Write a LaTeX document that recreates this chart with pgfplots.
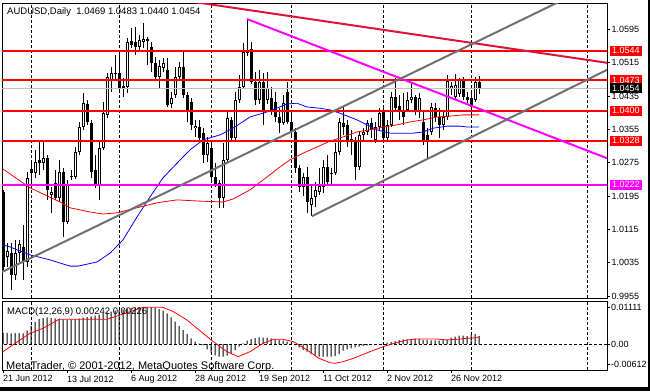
\documentclass[border=0pt]{standalone}
\usepackage{fontspec}
\setmainfont{Liberation Sans}
\usepackage{pgfplots}
\usepackage{pgfplotstable}
\pgfplotsset{compat=1.18}
\definecolor{crim}{RGB}{220,20,60}
\definecolor{chgray}{RGB}{112,112,112}
\definecolor{bidgray}{RGB}{192,192,192}
\definecolor{mag}{RGB}{255,0,255}

\pgfplotstableread{
i O H L C
0 1.0205 1.0210 1.0018 1.0025
1 1.0049 1.0082 1.0025 1.0063
2 1.0058 1.0082 0.9970 1.0006
3 1.0006 1.0090 0.9994 1.0058
4 1.0058 1.0090 1.0037 1.0080
5 1.0073 1.0126 0.9994 1.0037
6 1.0037 1.0253 1.0025 1.0239
7 1.0260 1.0282 1.0222 1.0251
8 1.0251 1.0306 1.0239 1.0277
9 1.0282 1.0325 1.0246 1.0274
10 1.0274 1.0325 1.0258 1.0287
11 1.0287 1.0294 1.0186 1.0210
12 1.0198 1.0217 1.0155 1.0205
13 1.0227 1.0258 1.0186 1.0191
14 1.0191 1.0282 1.0181 1.0253
15 1.0253 1.0263 1.0097 1.0133
16 1.0133 1.0234 1.0128 1.0224
17 1.0243 1.0258 1.0234 1.0242
18 1.0241 1.0313 1.0236 1.0301
19 1.0301 1.0373 1.0294 1.0361
20 1.0361 1.0443 1.0354 1.0418
21 1.0416 1.0426 1.0366 1.0373
22 1.0370 1.0378 1.0239 1.0253
23 1.0258 1.0294 1.0215 1.0222
24 1.0222 1.0330 1.0186 1.0310
25 1.0310 1.0421 1.0306 1.0394
26 1.0390 1.0490 1.0382 1.0481
27 1.0474 1.0505 1.0445 1.0490
28 1.0488 1.0534 1.0474 1.0487
29 1.0490 1.0546 1.0443 1.0454
30 1.0459 1.0478 1.0433 1.0452
31 1.0457 1.0574 1.0443 1.0565
32 1.0567 1.0598 1.0550 1.0558
33 1.0565 1.0601 1.0534 1.0553
34 1.0553 1.0582 1.0546 1.0570
35 1.0565 1.0610 1.0550 1.0572
36 1.0572 1.0577 1.0510 1.0567
37 1.0553 1.0565 1.0493 1.0514
38 1.0514 1.0529 1.0474 1.0481
39 1.0481 1.0522 1.0454 1.0507
40 1.0502 1.0526 1.0493 1.0514
41 1.0498 1.0526 1.0409 1.0414
42 1.0416 1.0445 1.0406 1.0430
43 1.0438 1.0505 1.0430 1.0481
44 1.0481 1.0517 1.0474 1.0505
45 1.0505 1.0541 1.0430 1.0438
46 1.0438 1.0445 1.0373 1.0402
47 1.0421 1.0430 1.0354 1.0366
48 1.0358 1.0378 1.0337 1.0363
49 1.0361 1.0378 1.0330 1.0334
50 1.0346 1.0358 1.0274 1.0294
51 1.0294 1.0337 1.0277 1.0322
52 1.0310 1.0322 1.0234 1.0241
53 1.0241 1.0274 1.0217 1.0222
54 1.0227 1.0234 1.0167 1.0191
55 1.0191 1.0322 1.0167 1.0282
56 1.0282 1.0402 1.0277 1.0382
57 1.0378 1.0385 1.0330 1.0334
58 1.0334 1.0445 1.0327 1.0426
59 1.0426 1.0486 1.0418 1.0457
60 1.0457 1.0562 1.0452 1.0541
61 1.0538 1.0620 1.0531 1.0546
62 1.0548 1.0565 1.0464 1.0469
63 1.0469 1.0493 1.0414 1.0426
64 1.0426 1.0498 1.0416 1.0469
65 1.0469 1.0490 1.0366 1.0402
66 1.0426 1.0493 1.0416 1.0454
67 1.0430 1.0457 1.0390 1.0402
68 1.0421 1.0445 1.0373 1.0385
69 1.0385 1.0406 1.0346 1.0370
70 1.0370 1.0438 1.0366 1.0418
71 1.0445 1.0469 1.0368 1.0373
72 1.0373 1.0402 1.0342 1.0349
73 1.0349 1.0358 1.0251 1.0263
74 1.0263 1.0270 1.0205 1.0217
75 1.0217 1.0251 1.0195 1.0241
76 1.0241 1.0265 1.0155 1.0181
77 1.0174 1.0222 1.0147 1.0191
78 1.0193 1.0229 1.0169 1.0210
79 1.0205 1.0263 1.0198 1.0219
80 1.0217 1.0282 1.0203 1.0265
81 1.0265 1.0294 1.0222 1.0229
82 1.0251 1.0263 1.0222 1.0248
83 1.0251 1.0322 1.0246 1.0301
84 1.0301 1.0382 1.0294 1.0373
85 1.0370 1.0409 1.0342 1.0361
86 1.0366 1.0378 1.0313 1.0330
87 1.0327 1.0354 1.0294 1.0332
88 1.0330 1.0337 1.0234 1.0265
89 1.0265 1.0349 1.0258 1.0342
90 1.0342 1.0358 1.0330 1.0349
91 1.0349 1.0378 1.0342 1.0370
92 1.0370 1.0382 1.0334 1.0354
93 1.0330 1.0373 1.0322 1.0361
94 1.0361 1.0406 1.0354 1.0394
95 1.0397 1.0406 1.0330 1.0334
96 1.0334 1.0378 1.0325 1.0366
97 1.0366 1.0445 1.0361 1.0433
98 1.0433 1.0478 1.0397 1.0406
99 1.0411 1.0438 1.0378 1.0402
100 1.0402 1.0443 1.0366 1.0385
101 1.0402 1.0445 1.0397 1.0426
102 1.0426 1.0466 1.0418 1.0433
103 1.0433 1.0438 1.0390 1.0397
104 1.0397 1.0443 1.0382 1.0430
105 1.0373 1.0397 1.0318 1.0330
106 1.0342 1.0358 1.0287 1.0330
107 1.0349 1.0418 1.0342 1.0409
108 1.0406 1.0418 1.0373 1.0385
109 1.0385 1.0406 1.0334 1.0366
110 1.0366 1.0402 1.0354 1.0385
111 1.0385 1.0486 1.0378 1.0471
112 1.0454 1.0469 1.0438 1.0459
113 1.0433 1.0488 1.0426 1.0462
114 1.0440 1.0478 1.0433 1.0474
115 1.0474 1.0481 1.0426 1.0433
116 1.0433 1.0445 1.0416 1.0426
117 1.0430 1.0443 1.0385 1.0409
118 1.0426 1.0481 1.0421 1.0469
119 1.0469 1.0483 1.0440 1.0454
}\candles

\pgfplotstableread{
i h
0 0.0034
1 0.0033
2 0.0032
3 0.0033
4 0.0033
5 0.0032
6 0.0040
7 0.0055
8 0.0066
9 0.0075
10 0.0078
11 0.0080
12 0.0078
13 0.0077
14 0.0076
15 0.0074
16 0.0073
17 0.0073
18 0.0074
19 0.0076
20 0.0079
21 0.0081
22 0.0083
23 0.0085
24 0.0088
25 0.0091
26 0.0094
27 0.0097
28 0.0100
29 0.0102
30 0.0104
31 0.0106
32 0.0108
33 0.0110
34 0.0111
35 0.0111
36 0.0111
37 0.0110
38 0.0108
39 0.0105
40 0.0100
41 0.0092
42 0.0080
43 0.0067
44 0.0054
45 0.0042
46 0.0030
47 0.0017
48 0.0007
49 0.0001
50 -0.0004
51 -0.0016
52 -0.0026
53 -0.0034
54 -0.0038
55 -0.0038
56 -0.0035
57 -0.0028
58 -0.0018
59 -0.0008
60 0.0002
61 0.0010
62 0.0015
63 0.0018
64 0.0020
65 0.0019
66 0.0019
67 0.0017
68 0.0014
69 0.0012
70 0.0010
71 0.0007
72 0.0002
73 -0.0004
74 -0.0010
75 -0.0018
76 -0.0023
77 -0.0030
78 -0.0035
79 -0.0038
80 -0.0038
81 -0.0038
82 -0.0038
83 -0.0036
84 -0.0030
85 -0.0020
86 -0.0016
87 -0.0013
88 -0.0010
89 -0.0008
90 -0.0006
91 -0.0004
92 -0.0003
93 -0.0002
94 -0.0001
95 0.0002
96 0.0004
97 0.0006
98 0.0009
99 0.0012
100 0.0014
101 0.0014
102 0.0015
103 0.0016
104 0.0015
105 0.0012
106 0.0012
107 0.0011
108 0.0011
109 0.0010
110 0.0013
111 0.0014
112 0.0019
113 0.0022
114 0.0025
115 0.0025
116 0.0024
117 0.0027
118 0.0030
119 0.0024
}\macd

\begin{document}
\begin{tikzpicture}
\useasboundingbox (0pt,0pt) rectangle (650pt,-391pt);
\fill[white] (0pt,0pt) rectangle (650pt,-391pt);

\begin{axis}[
  at={(2pt,-3pt)}, anchor=north west, scale only axis,
  width=605pt, height=295pt,
  xmin=-0.25, xmax=151, ymin=0.99505, ymax=1.06585,
  scaled y ticks=false, scaled x ticks=false,
  axis line style={black, line width=0.8pt},
  xtick={7,29,52,72,95,117,146}, xticklabels={}, xmajorgrids,
  x grid style={black, line width=0.8pt, dash pattern=on 3pt off 2pt},
  xtick style={draw=none},
  ytick={0.9955,1.0035,1.0115,1.0195,1.0275,1.0355,1.0435,1.0515,1.0595},
  yticklabels={0.9955,1.0035,1.0115,1.0195,1.0275,1.0355,1.0435,1.0515,1.0595},
  ytick pos=right, yticklabel pos=right, tick align=outside,
  major tick length=3pt, ytick style={black, line width=0.8pt},
  yticklabel style={font=\fontsize{9}{10}\selectfont, anchor=west, inner xsep=1.5pt},
  clip=true,
]
% wicks
\addplot[draw=none, mark=none, forget plot,
  error bars/.cd, y dir=plus, y explicit, error mark=none,
  error bar style={draw=black, line width=1pt}]
  table[x=i, y=L, y error expr=\thisrow{H}-\thisrow{L}] {\candles};
% bodies
\addplot[draw=none, mark=none, forget plot,
  error bars/.cd, y dir=plus, y explicit, error mark=none,
  error bar style={draw=black, line width=3pt}]
  table[x=i, y expr={min(\thisrow{O},\thisrow{C})},
        y error expr={max(abs(\thisrow{C}-\thisrow{O}),0.00025)}] {\candles};
% white interiors of rising candles
\addplot[draw=none, mark=none, forget plot,
  error bars/.cd, y dir=plus, y explicit, error mark=none,
  error bar style={draw=white, line width=1pt}]
  table[x=i, y expr={\thisrow{O}+0.00024},
        y error expr={\thisrow{C}>\thisrow{O} ? max(\thisrow{C}-\thisrow{O}-0.00048,0) : 0}] {\candles};

% moving averages
\addplot[blue, line width=0.8pt] coordinates {(0,1.0078) (1.75,1.0073) (6.75,1.0054) (11.75,1.0042) (16.75,1.0027) (18.75,1.0027) (23.5,1.0037) (26.75,1.0058) (30,1.0090) (33.5,1.0145) (36.75,1.0193) (40,1.0239) (43.5,1.0274) (46.75,1.0306) (50,1.0330) (54.25,1.0342) (57.5,1.0358) (61.75,1.0385) (66,1.0397) (71,1.0416) (73.5,1.0418) (76,1.0409) (79.25,1.0406) (81.75,1.0402) (84.25,1.0394) (88.5,1.0378) (91,1.0366) (93.5,1.0354) (96.75,1.0346) (102.5,1.0346) (105,1.0349) (107.5,1.0358) (111,1.0363) (114.25,1.0363) (116,1.0361) (119,1.0361)};
\addplot[red, line width=0.8pt] coordinates {(0,1.0260) (6.75,1.0215) (14.25,1.0181) (16.75,1.0167) (21.75,1.0157) (25,1.0152) (28.5,1.0155) (34.25,1.0169) (38.5,1.0179) (43.5,1.0186) (49.25,1.0183) (55,1.0181) (57.5,1.0188) (61.75,1.0210) (66,1.0241) (69.25,1.0265) (71.75,1.0282) (75,1.0298) (78.5,1.0313) (81.75,1.0327) (85,1.0337) (88.5,1.0349) (91.75,1.0354) (95,1.0361) (98.5,1.0366) (101.75,1.0373) (105,1.0378) (108.5,1.0385) (111.75,1.0387) (115,1.0390) (119,1.0390)};

% bid line
\addplot[bidgray, line width=0.8pt] coordinates {(-1,1.0454) (152,1.0454)};
% horizontal levels
\addplot[red, line width=2pt] coordinates {(-1,1.0544) (152,1.0544)};
\addplot[red, line width=2pt] coordinates {(-1,1.0473) (152,1.0473)};
\addplot[red, line width=2pt] coordinates {(-1,1.0400) (152,1.0400)};
\addplot[red, line width=2pt] coordinates {(-1,1.0328) (152,1.0328)};
\addplot[mag, line width=2pt] coordinates {(-1,1.0222) (152,1.0222)};
% trend lines
\addplot[crim, line width=2pt] coordinates {(47,1.0662) (151,1.0515)};
\addplot[mag, line width=2pt] coordinates {(61,1.0620) (151,1.0286)};
\addplot[chgray, line width=2pt] coordinates {(-0.25,1.0013) (140,1.0666)};
\addplot[chgray, line width=2pt] coordinates {(77.25,1.0147) (151,1.0498)};

\coordinate (p1) at (axis cs:151.75,1.0544);
\coordinate (p2) at (axis cs:151.75,1.0473);
\coordinate (p3) at (axis cs:151.75,1.0454);
\coordinate (p4) at (axis cs:151.75,1.0400);
\coordinate (p5) at (axis cs:151.75,1.0328);
\coordinate (p6) at (axis cs:151.75,1.0222);
\end{axis}

\begin{axis}[
  at={(2pt,-301pt)}, anchor=north west, scale only axis,
  width=605pt, height=69pt,
  xmin=-0.25, xmax=151, ymin=-0.0078, ymax=0.0129,
  scaled y ticks=false, scaled x ticks=false,
  axis line style={black, line width=0.8pt},
  xtick={0,16,32,48,64,80,96,112},
  xticklabels={21 Jun 2012,13 Jul 2012,6 Aug 2012,28 Aug 2012,19 Sep 2012,11 Oct 2012,2 Nov 2012,26 Nov 2012},
  xtick pos=bottom,
  xticklabel style={font=\fontsize{9}{10}\selectfont, anchor=north west, inner sep=0pt, yshift=-2.5pt},
  extra x ticks={7,29,52,72,95,117,146}, extra x tick labels={},
  extra x tick style={grid=major, major tick length=0pt},
  x grid style={black, line width=0.8pt, dash pattern=on 3pt off 2pt},
  ytick={-0.00612,0,0.01111}, yticklabels={-0.00612,0.00,0.01111},
  ytick pos=right, yticklabel pos=right, tick align=outside,
  major tick length=3pt, tick style={black, line width=0.8pt},
  yticklabel style={font=\fontsize{9}{10}\selectfont, anchor=west, inner xsep=1pt},
  clip=true,
]
\addplot[black, line width=0.8pt, dash pattern=on 3pt off 2pt] coordinates {(-1,0) (152,0)};
\addplot[ybar, bar width=1pt, fill=black, draw=none] table[x=i, y=h] {\macd};
\addplot[red, line width=0.8pt] coordinates {(0,-0.0023) (4.25,0.0012) (6.75,0.0032) (10,0.0047) (14,0.0074) (26,0.0074) (30,0.0090) (35,0.0110) (40,0.0110) (42.6,0.0097) (46,0.0072) (49,0.0042) (52.6,0.0007) (56,-0.0023) (58.8,-0.0038) (61.75,-0.0023) (65,0.0002) (67.6,0.0014) (70,0.0014) (72.6,0.0007) (76,-0.0018) (79,-0.0043) (81.75,-0.0056) (83,-0.0058) (85,-0.0053) (87.6,-0.0043) (91.75,-0.0023) (95,-0.0008) (98.4,0.0004) (101,0.0012) (103.4,0.0015) (108.5,0.0015) (111,0.0012) (113.4,0.0014) (116,0.0017) (118.4,0.0019) (119,0.0022)};
\end{axis}

% price boxes on the scale
\begin{scope}[every node/.style={anchor=west, inner xsep=2pt, inner ysep=0pt, minimum height=10pt, text=white, font=\fontsize{9}{10}\selectfont}]
\node[fill=red] at (p1) {1.0544};
\node[fill=red] at (p2) {1.0473};
\node[fill=red] at (p4) {1.0400};
\node[fill=red] at (p5) {1.0328};
\node[fill=mag] at (p6) {1.0222};
\node[fill=black] at (p3) {1.0454};
\end{scope}

% texts
\node[anchor=base west, inner sep=0pt, font=\fontsize{9.5}{10}\selectfont] at (7pt,-14.3pt) {AUDUSD,Daily\ \ 1.0469 1.0483 1.0440 1.0454};
\node[anchor=base west, inner sep=0pt, font=\fontsize{9.5}{10}\selectfont] at (7pt,-314.3pt) {MACD(12,26,9) 0.00242 0.00226};
\node[anchor=base west, inner sep=0pt, font=\fontsize{11}{12}\selectfont] at (6pt,-369.3pt) {MetaTrader, © 2001-2012, MetaQuotes Software Corp.};

% window border
\fill[black] (0pt,-387pt) rectangle (650pt,-391pt);
\fill[black] (647.5pt,0pt) rectangle (650pt,-391pt);
\end{tikzpicture}
\end{document}
